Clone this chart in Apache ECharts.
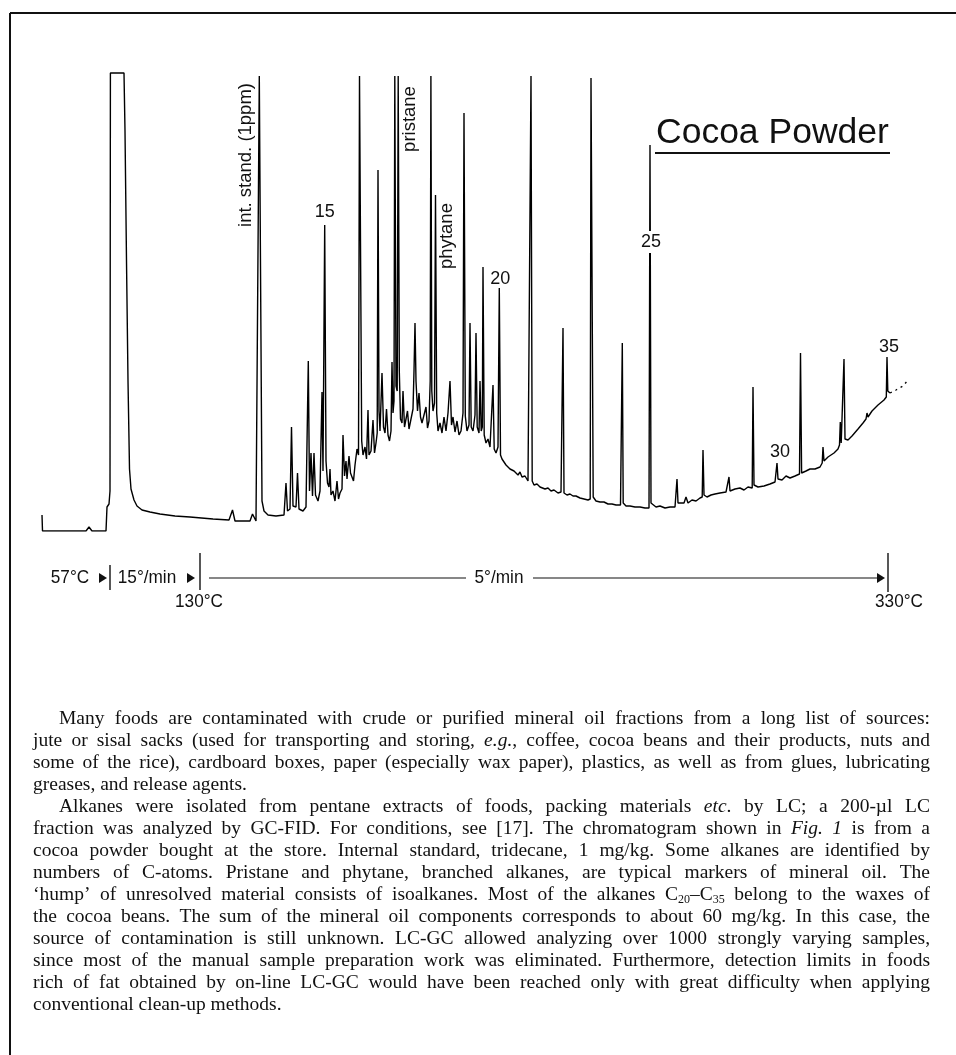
<!DOCTYPE html>
<html><head><meta charset="utf-8">
<script src="https://cdn.jsdelivr.net/npm/echarts@6/dist/echarts.min.js"></script>
<style>html,body{margin:0;padding:0;background:#fff}#c{width:956px;height:1055px}</style>
</head><body><div id="c"></div>
<script>
// Retention position (arbitrary units) and detector response (arbitrary units)
const trace = [[42,16],[42.5,0],[86,0],[89,4],[92,0],[106,0],[107,24],[109,27],[110,40],[110.4,458],[124,458],[125,400],[126.5,270],[128,150],[129.5,62],[131,42],[134,31],[137,25],[142,21],[150,19],[160,17],[175,15],[190,14],[213,12],[229,11],[232.5,21],[235,10],[250,10],[252.5,17],[256,10],[258,11],[259.3,455],[260.5,455],[262,30],[264,20],[268,16],[276,15],[284,16],
[286,48],[287.5,20],[290,22],[291.5,104],[293,25],[296,24],[297.5,58],[299,22],[303,20],[306,24],
[308.3,170],[309.5,40],[311,78],[312.5,35],[314,78],[315.5,36],[318,30],[320,40],[322,139],[323,60],[324.7,306],[326,70],[327.5,48],[329,44],[330,62],[331,36],[333,40],[335,30],[337,50],[338.5,32],[340,38],[342,42],[343,96],[344.5,55],[346,70],[347,52],[349,75],[350.5,58],[352,56],[353.5,50],[355,66],[357,82],[358.5,76],
[359.5,455],[360.7,455],[361.7,90],[363,76],[365,84],[366.5,72],[368,121],[369,76],[371,80],[373,111],[374.5,78],[376,88],[377.2,98],[378,361],[379,120],[380,100],[382,158],[383.5,104],[385,98],[386.5,122],[388,96],[389.5,90],[391,100],[392,169],[393,118],[394,130],
[394.8,455],[396,145],[397.2,140],[398.2,455],[399.3,160],[400.5,112],[402,108],[403,140],[404.5,104],[406,102],[407.5,120],[409,102],[411,112],[413,122],[414,160],[415,208],[416,150],[417.5,120],[419,138],[420.5,114],[422,108],[424,106],[426,124],[427.5,103],[429,110],
[430.2,150],[430.9,455],[431.8,140],[433,120],[434.5,128],[435.5,336],[436.7,118],[438,100],[440,108],[442,98],[444,114],[446,100],[448,118],[450,150],[451.5,106],[453,114],[455,99],[457,110],[459,96],[461,100],
[463,118],[464,418],[465.3,115],[467,100],[469,106],[470,208],[471.2,104],[473,100],[475,116],[476,198],[477.2,104],[479,98],[480,150],[481.2,100],[482.3,104],[483,264],[484.2,96],[486,88],[488,92],[490,84],[491.5,86],[493,146],[494.2,82],[496,78],[498,84],[499.3,243],[500.5,76],[502,72],[504,70],[506,66],[508,68],[510,62],[512,64],[514,60],[516,62],[518,56],[520,59],[522,54],[525,55],[528,50],
[530,49],[531,455],[532.2,50],[534,46],[537,47],[540,44],[542,46],[545,42],[548,43],[551,40],[554,41],[558,38],[561,39],
[562.2,40],[563,203],[564,38],[567,36],[570,37],[573,35],[576,35],[580,33],[584,32],[588,31],[590.2,32],
[591,453],[592,453],[593.2,34],[596,30],[600,29],[604,29],[608,27],[612,27],[616,26],[620.5,26],
[621.5,28],[622.3,188],[623.2,28],[626,25],[630,25],[635,24],[640,24],[645,23],[649,23],
[650,386],[651,28],[653,26],[656,24],[660,25],[665,23],[670,24],[675,24],
[676.2,26],[677,52],[678,28],[680,27],[684,28],[686,34],[688,28],[692,31],[696,30],[700,33],[702.2,34],
[703,81],[704,36],[707,34],[711,36],[715,37],[720,38],[726,39],[727.5,40],[729,54],[730,40],[735,42],[740,43],[744,41],[748,44],[752.2,43],
[753,144],[754,46],[758,44],[764,45],[770,47],[775,49],[776.2,50],[777,68],[778,52],[780,54],[782,51],[786,55],[790,53],[795,55],[799.5,57],
[800.5,178],[801.6,58],[806,60],[810,62],[815,62],[820,64],[822.2,68],[823,84],[824,70],[828,74],[834,78],[838,82],[839.5,86],[840.3,109],[841.2,88],[843,90],[844,172],[845,92],[848,91],[852,95],[858,102],[863,108],[866,112],[867,118],[868,114],[872,120],[878,126],[884,131],[886.3,134],[887,174],[887.8,140],[890,138]];
const traceTail = [[890,138],[896,141],[903,145],[909,152]];

const peakLabels = [
  {text:'15', rt:324.7, sig:306, dx:0, dy:-13},
  {text:'20', rt:499.3, sig:243, dx:1, dy:-9},
  {text:'25', rt:650, sig:289, dx:1, dy:0, knock:true},
  {text:'30', rt:777, sig:68, dx:3, dy:-11},
  {text:'35', rt:887, sig:174, dx:2, dy:-10}
];
const compoundLabels = [
  {text:'int. stand. (1ppm)', rt:259.3, sig:455, dx:-13, dy:79},
  {text:'pristane', rt:398.2, sig:455, dx:12, dy:43},
  {text:'phytane', rt:435.5, sig:336, dx:11, dy:41}
];
const sampleTitle = 'Cocoa Powder';

const tempLabels = ['57°C', '15°/min', '5°/min', '130°C', '330°C'];

const para1 = [
"Many foods are contaminated with crude or purified mineral oil fractions from a long list of sources:",
"jute or sisal sacks (used for transporting and storing, _e.g._, coffee, cocoa beans and their products, nuts and",
"some of the rice), cardboard boxes, paper (especially wax paper), plastics, as well as from glues, lubricating",
"greases, and release agents."
];
const para2 = [
"Alkanes were isolated from pentane extracts of foods, packing materials _etc_. by LC; a 200-µl LC",
"fraction was analyzed by GC-FID. For conditions, see [17]. The chromatogram shown in _Fig._ _1_ is from a",
"cocoa powder bought at the store. Internal standard, tridecane, 1 mg/kg. Some alkanes are identified by",
"numbers of C-atoms. Pristane and phytane, branched alkanes, are typical markers of mineral oil. The",
"‘hump’ of unresolved material consists of isoalkanes. Most of the alkanes C~20~–C~35~ belong to the waxes of",
"the cocoa beans. The sum of the mineral oil components corresponds to about 60 mg/kg. In this case, the",
"source of contamination is still unknown. LC-GC allowed analyzing over 1000 strongly varying samples,",
"since most of the manual sample preparation work was eliminated. Furthermore, detection limits in foods",
"rich of fat obtained by on-line LC-GC would have been reached only with great difficulty when applying",
"conventional clean-up methods."
];

const chart = echarts.init(document.getElementById('c'), null, {renderer:'canvas'});
chart.setOption({
  animation:false,
  backgroundColor:'#fff',
  grid:{left:0, right:0, top:0, bottom:524},
  xAxis:{type:'value', min:0, max:956, show:false},
  yAxis:{type:'value', min:0, max:531, show:false},
  series:[
    {type:'line', data:trace, showSymbol:false, lineStyle:{color:'#000', width:1.4}, z:3},
    {type:'line', data:traceTail, showSymbol:false, lineStyle:{color:'#000', width:1.3, type:[2,4]}, z:3}
  ]
});

const g = [];
const SANS = '"Liberation Sans", Arial, sans-serif';
const SERIF = '"Liberation Serif", "Times New Roman", serif';
function st(text, font, align){ return {text:text, font:font, fill:'#111', align:align||'left', verticalAlign:'middle', textAlign:align||'left', textVerticalAlign:'middle'}; }
function txt(x, y, text, font, align, extra){ g.push(Object.assign({type:'text', z:100, x:x, y:y, style:st(text, font, align)}, extra||{})); }
function line(x1,y1,x2,y2,w){ g.push({type:'line', z:100, shape:{x1,y1,x2,y2}, style:{stroke:'#111', lineWidth:w||1.3}}); }
function tri(x, y){ g.push({type:'polygon', z:100, shape:{points:[[x-8,y-5],[x,y],[x-8,y+5]]}, style:{fill:'#111'}}); }

// frame
line(10,13,956,13,2);
line(10,13,10,1055,2);

// peak number labels
peakLabels.forEach(p => {
  const [px, py] = chart.convertToPixel({gridIndex:0}, [p.rt, p.sig]);
  const s = st(p.text, '18px '+SANS, 'center');
  if (p.knock) { s.backgroundColor = '#fff'; s.padding = [2,1]; }
  g.push({type:'text', z:100, x:px+p.dx, y:py+p.dy, style:s});
});
compoundLabels.forEach(p => {
  const [px, py] = chart.convertToPixel({gridIndex:0}, [p.rt, p.sig]);
  g.push({type:'text', z:100, x:px+p.dx, y:py+p.dy, rotation:Math.PI/2, style:st(p.text, '18.5px '+SANS, 'center')});
});
// title
txt(656, 133, sampleTitle, '35.5px '+SANS);
line(655,153,890,153,2);

// temperature program
const TF = '18.5px '+SANS, ty = 578, SC = {scaleX:0.93};
txt(70, ty, tempLabels[0], TF, 'center', SC);
tri(107, ty);
line(110, 565, 110, 590, 1.4);
txt(147, ty, tempLabels[1], TF, 'center', SC);
tri(195, ty);
line(200, 553, 200, 590, 1.4);
line(209, ty, 466, ty, 1.2);
txt(499, ty, tempLabels[2], TF, 'center', SC);
line(533, ty, 878, ty, 1.2);
tri(885, ty);
line(888, 553, 888, 592, 1.4);
txt(199, 602, tempLabels[3], TF, 'center', SC);
txt(899, 602, tempLabels[4], TF, 'center', SC);

// body text, justified
const cvs = document.createElement('canvas').getContext('2d');
const FS = 19.5, SUBFS = 12;
function fontOf(it, sub){ return (it?'italic ':'') + (sub?SUBFS:FS) + 'px ' + SERIF; }
function parseWord(w){
  const parts = []; const re = /(_[^_]+_|~[^~]+~|[^_~]+)/g; let m;
  while ((m = re.exec(w))) {
    const s = m[0];
    if (s[0]==='_') parts.push({t:s.slice(1,-1), it:true});
    else if (s[0]==='~') parts.push({t:s.slice(1,-1), sub:true});
    else parts.push({t:s});
  }
  parts.forEach(p => { cvs.font = fontOf(p.it, p.sub); p.w = cvs.measureText(p.t).width; });
  return {parts, w: parts.reduce((a,p)=>a+p.w,0)};
}
const LEFT = 33, RIGHT = 930, INDENT = 26, Y0 = 719, LH = 22.0, MINGAP = 3.2;
let SX = 1;
[para1, para2].forEach(par => par.forEach((ln, k) => {
  if (k === par.length-1) return;
  const words = ln.split(' ').map(parseWord);
  const total = words.reduce((a,w)=>a+w.w,0);
  const avail = RIGHT - LEFT - (k===0?INDENT:0) - MINGAP*(words.length-1);
  SX = Math.min(SX, avail/total);
}));
let li = 0;
[para1, para2].forEach(par => {
  par.forEach((ln, k) => {
    const y = Y0 + li*LH; li++;
    const x0 = LEFT + (k===0 ? INDENT : 0);
    const words = ln.split(' ').map(parseWord);
    const total = words.reduce((a,w)=>a+w.w,0)*SX;
    cvs.font = fontOf(false,false);
    let gap = cvs.measureText(' ').width * SX;
    const last = (k === par.length-1);
    if (!last && words.length>1) gap = (RIGHT - x0 - total)/(words.length-1);
    let x = x0;
    words.forEach(w => {
      w.parts.forEach(p => {
        g.push({type:'text', z:100, x:x, y: y + (p.sub?5:0), scaleX:SX, style:st(p.t, fontOf(p.it,p.sub), 'left')});
        x += p.w*SX;
      });
      x += gap;
    });
  });
});

chart.setOption({graphic:{elements:g}});
</script>
</body></html>
